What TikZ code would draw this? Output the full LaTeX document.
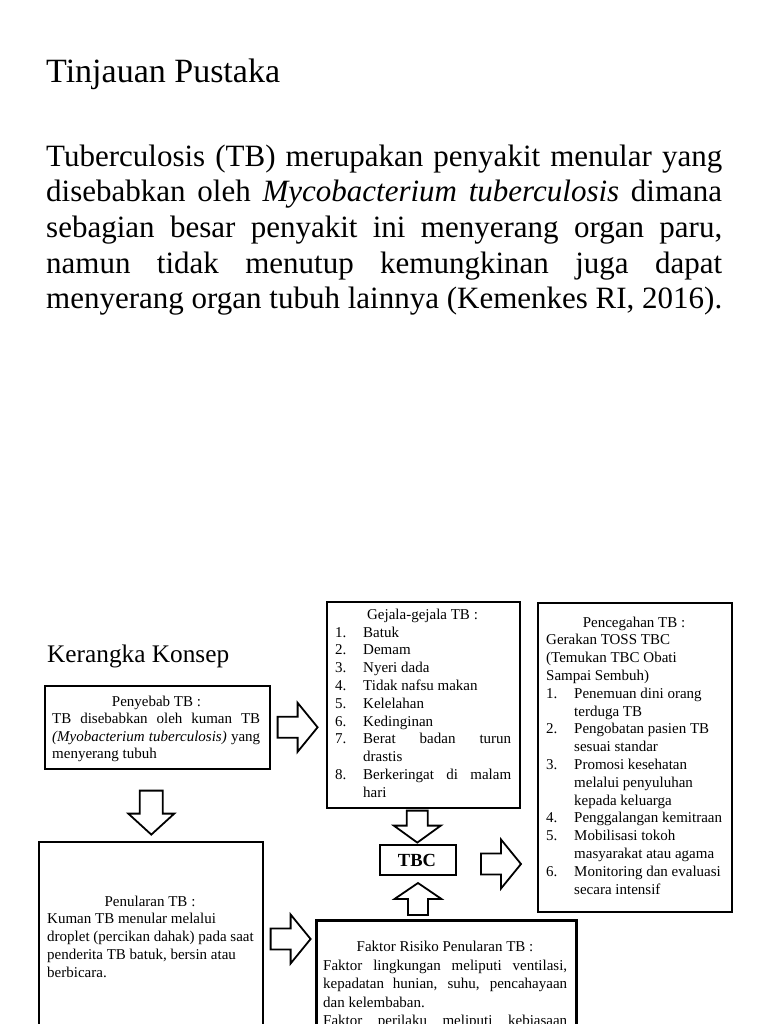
\documentclass[tikz,border=0pt]{standalone}
\usepackage{fontspec}
\setmainfont{Liberation Serif}
\usetikzlibrary{calc}
\tikzset{
  box/.style={draw=black, line width=1.6pt, inner sep=0pt, anchor=north west},
  txt/.style={inner sep=0pt, anchor=base west, font=\fontsize{15}{18}\selectfont},
  ctxt/.style={txt, anchor=base},
  para/.style={inner sep=0pt, anchor=base west, font=\fontsize{31}{35}\selectfont},
  blockarrow/.style={draw=black, line width=1.8pt, fill=white, line join=miter, miter limit=10},
  rblk/.pic={\path[blockarrow] (0,-10.5) -- (20,-10.5) -- (20,-24.5) -- (40,0) -- (20,24.5) -- (20,10.5) -- (0,10.5) -- cycle;},
  dblkL/.pic={\path[blockarrow] (-11.5,0) -- (11.5,0) -- (11.5,23) -- (23,23) -- (0,44) -- (-23,23) -- (-11.5,23) -- cycle;},
  dblkS/.pic={\path[blockarrow] (-10.5,0) -- (10.5,0) -- (10.5,15) -- (23.5,15) -- (0,32) -- (-23.5,15) -- (-10.5,15) -- cycle;},
  ublk/.pic={\path[blockarrow] (-10,0) -- (10,0) -- (10,-16) -- (23.5,-16) -- (0,-32) -- (-23.5,-16) -- (-10,-16) -- cycle;}
}
\begin{document}
\begin{tikzpicture}[x=1pt,y=-1pt]
\useasboundingbox (0,0) rectangle (768,1024);
\fill[white] (0,0) rectangle (768,1024);

% heading and paragraph
\node[inner sep=0pt, anchor=base west, font=\fontsize{34}{40}\selectfont] (title) at (46,83) {Tinjauan Pustaka};
\node[para] (p1) at (46,167) {\makebox[676pt][s]{Tuberculosis (TB) merupakan penyakit menular yang}};
\node[para] (p2) at (46,202) {\makebox[676pt][s]{disebabkan oleh \textit{Mycobacterium tuberculosis} dimana}};
\node[para] (p3) at (46,237) {\makebox[676pt][s]{sebagian besar penyakit ini menyerang organ paru,}};
\node[para] (p4) at (46,273) {\makebox[676pt][s]{namun tidak menutup kemungkinan juga dapat}};
\node[para] (p5) at (46,308) {menyerang organ tubuh lainnya (Kemenkes RI, 2016).};

\node[inner sep=0pt, anchor=base west, font=\fontsize{25.3}{30}\selectfont] (kk) at (47,662) {Kerangka Konsep};

% boxes
\node[box, minimum width=225pt, minimum height=83pt] (pyb) at (44,685) {};
\node[box, minimum width=193pt, minimum height=206pt] (gej) at (326,601) {};
\node[box, minimum width=194pt, minimum height=309pt] (pcg) at (537,602) {};
\node[box, line width=2pt, minimum width=76pt, minimum height=30pt] (tbc) at (379,844) {};
\node[box, minimum width=224pt, minimum height=200pt] (pnl) at (38,841) {};
\node[box, line width=2.8pt, minimum width=260pt, minimum height=130pt] (fkt) at (315,919) {};

% block arrows
\pic at ($(pyb.east)+(7,0)$) {rblk};
\pic at ($(pyb.south)+(-6,21)$) {dblkL};
\pic at ($(pnl.north east)+(7,98)$) {rblk};
\pic at ($(gej.south)+(-6,2)$) {dblkS};
\pic at ($(tbc.south)+(0,39)$) {ublk};
\pic at ($(tbc.east)+(24,4)$) {rblk};

% Penyebab
\node[ctxt] (pyb1) at (156.5,706) {Penyebab TB :};
\node[txt] (pyb2) at (52,723) {\makebox[208pt][s]{TB disebabkan oleh kuman TB}};
\node[txt] (pyb3) at (52,741) {\makebox[208pt][s]{\textit{(Myobacterium tuberculosis)} yang}};
\node[txt] (pyb4) at (52,758) {menyerang tubuh};

% Gejala
\node[ctxt] (gej0) at (422.5,619) {Gejala-gejala TB :};
\foreach \t [count=\k from 0] in {Batuk, Demam, Nyeri dada, Tidak nafsu makan, Kelelahan, Kedinginan,
  {\makebox[148pt][s]{Berat badan turun}}, drastis, {\makebox[148pt][s]{Berkeringat di malam}}, hari}
  \node[txt] (gejt\k) at (363,{637+17.8*\k}) {\t};
\foreach \n/\k in {1/0,2/1,3/2,4/3,5/4,6/5,7/6,8/8}
  \node[txt] (gejn\n) at (335,{637+17.8*\k}) {\n.};

% Pencegahan
\node[ctxt] (pcg0) at (634,627) {Pencegahan TB :};
\foreach \t [count=\k] in {Gerakan TOSS TBC, {(Temukan TBC Obati}, {Sampai Sembuh)}}
  \node[txt] (pcgh\k) at (546,{627+17.8*\k}) {\t};
\foreach \t [count=\k from 4] in {Penemuan dini orang, terduga TB, Pengobatan pasien TB, sesuai standar,
  Promosi kesehatan, melalui penyuluhan, kepada keluarga, Penggalangan kemitraan, Mobilisasi tokoh,
  masyarakat atau agama, Monitoring dan evaluasi, secara intensif}
  \node[txt] (pcgt\k) at (574,{627+17.8*\k}) {\t};
\foreach \n/\k in {1/4,2/6,3/8,4/11,5/12,6/14}
  \node[txt] (pcgn\n) at (546,{627+17.8*\k}) {\n.};

% TBC
\node[inner sep=0pt, anchor=base, font=\fontsize{18.5}{20}\selectfont\bfseries] (tbct) at (417,866) {TBC};

% Penularan
\node[ctxt] (pnl0) at (150,906) {Penularan TB :};
\node[txt] (pnl1) at (47,923.8) {Kuman TB menular melalui};
\node[txt] (pnl2) at (47,941.6) {droplet (percikan dahak) pada saat};
\node[txt] (pnl3) at (47,959.4) {penderita TB batuk, bersin atau};
\node[txt] (pnl4) at (47,977.2) {berbicara.};

% Faktor
\node[ctxt] (fkt0) at (445,951.5) {Faktor Risiko Penularan TB :};
\node[txt] (fkt1) at (323,970) {\makebox[244pt][s]{Faktor lingkungan meliputi ventilasi,}};
\node[txt] (fkt2) at (323,988.5) {\makebox[244pt][s]{kepadatan hunian, suhu, pencahayaan}};
\node[txt] (fkt3) at (323,1007) {dan kelembaban.};
\node[txt] (fkt4) at (323,1025.5) {\makebox[244pt][s]{Faktor perilaku meliputi kebiasaan}};
\end{tikzpicture}
\end{document}
